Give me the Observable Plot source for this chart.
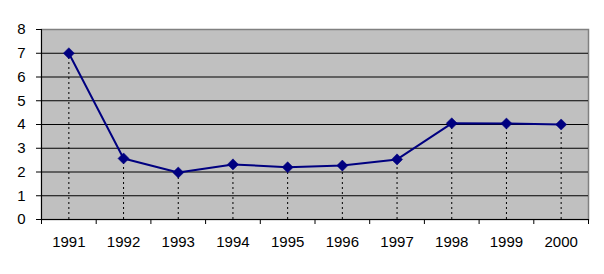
<!DOCTYPE html>
<html>
<head>
<meta charset="utf-8">
<script src="https://cdn.jsdelivr.net/npm/d3@7"></script>
<script src="https://cdn.jsdelivr.net/npm/@observablehq/plot@0.6"></script>
<style>
  html, body { margin: 0; padding: 0; background: #ffffff; }
  #chart svg { display: block; }
  #chart svg text { font-size: 15px; }
</style>
</head>
<body>
<div id="chart"></div>
<script>
const years = ["1991","1992","1993","1994","1995","1996","1997","1998","1999","2000"];
const values = [7.0, 2.57, 1.98, 2.32, 2.2, 2.27, 2.53, 4.05, 4.04, 4.0];
const yTicks = [0,1,2,3,4,5,6,7,8];

const data = years.map((year, i) => ({year, i: i + 0.5, value: values[i]}));
const bandEdges = d3.range(0, years.length + 1);
const centers = data.map(d => d.i);

const chart = Plot.plot({
  width: 604,
  height: 274,
  marginLeft: 41,
  marginRight: 16,
  marginTop: 29,
  marginBottom: 55,
  style: {fontFamily: "Arial, 'Liberation Sans', sans-serif", fontSize: "15px", color: "#000", background: "#fff"},
  x: {type: "linear", domain: [0, years.length], axis: null, label: null},
  y: {domain: [0, 8], axis: null, label: null},
  marks: [
    Plot.frame({fill: "#c0c0c0", stroke: "#808080", strokeWidth: 1.5}),
    Plot.ruleY(yTicks.filter(t => t > 0 && t < 8), {stroke: "#000", strokeWidth: 1}),
    Plot.ruleX(data, {x: "i", y1: 0, y2: "value", stroke: "#000", strokeWidth: 1, strokeDasharray: "2,3"}),
    Plot.line(data, {x: "i", y: "value", stroke: "#000080", strokeWidth: 2}),
    Plot.dot(data, {x: "i", y: "value", symbol: "diamond2", r: 5, fill: "#000080", stroke: "#000080", strokeWidth: 0.5}),
    Plot.axisY({ticks: yTicks, label: null, tickSize: 5, tickPadding: 11, tickFormat: d => String(d), stroke: "#000", fontSize: 15}),
    Plot.ruleX([0], {stroke: "#000", strokeWidth: 1}),
    Plot.ruleY([0], {stroke: "#000", strokeWidth: 1}),
    Plot.axisX({ticks: bandEdges, label: null, tickSize: 5, tickFormat: () => "", stroke: "#000"}),
    Plot.axisX({ticks: centers, label: null, tickSize: 0, tickPadding: 17, tickFormat: d => years[Math.round(d - 0.5)], fontSize: 15})
  ]
});
document.getElementById("chart").appendChild(chart);
</script>
</body>
</html>
